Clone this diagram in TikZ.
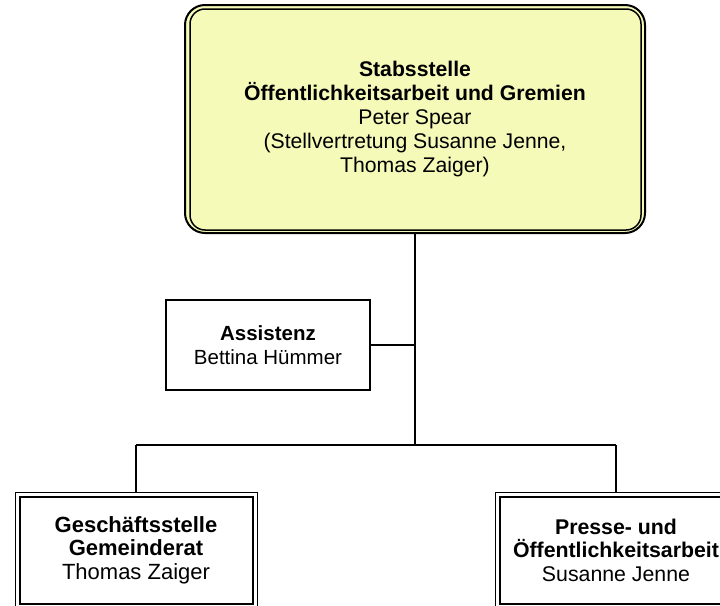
\documentclass[tikz,border=0pt]{standalone}
\usepackage{fontspec}
\setmainfont{Liberation Sans}
\definecolor{boxyellow}{RGB}{245,250,185}
\begin{document}
\begin{tikzpicture}[x=1pt,y=1pt,
  every node/.style={align=center, inner sep=0pt},
  topbox/.style={draw=black, line width=2pt, fill=boxyellow, rounded corners=20pt, minimum width=460pt, minimum height=228pt, font=\fontsize{21.2}{24.2}\selectfont},
  asbox/.style={draw=black, line width=1.2pt, fill=white, minimum width=204pt, minimum height=90pt, font=\fontsize{20.5}{23.5}\selectfont},
  botbox/.style={draw=black, line width=1pt, fill=white, minimum width=242pt, minimum height=116pt},
  conn/.style={draw=black, line width=1.5pt}]
\useasboundingbox (0,0) rectangle (720,-605);
\node[topbox] (top) at (415,-119) {\textbf{Stabsstelle}\\\textbf{Öffentlichkeitsarbeit und Gremien}\\Peter Spear\\(Stellvertretung Susanne Jenne,\\Thomas Zaiger)};
\draw[line width=1.5pt, rounded corners=15pt] ([shift={(6,-5)}]top.north west) rectangle ([shift={(-5,4)}]top.south east);
\node[asbox] (assist) at (268,-345) {\textbf{Assistenz}\\Bettina Hümmer};
\node[botbox, font=\fontsize{22}{23.5}\selectfont] (left) at (136,-550) {\textbf{Geschäftsstelle}\\\textbf{Gemeinderat}\\Thomas Zaiger};
\draw[line width=2pt] ([shift={(5,-5)}]left.north west) rectangle ([shift={(-5,5)}]left.south east);
\node[botbox, font=\fontsize{21.3}{23.5}\selectfont] (right) at (616,-550) {\textbf{Presse- und}\\\textbf{Öffentlichkeitsarbeit}\\Susanne Jenne};
\draw[line width=2pt] ([shift={(5,-5)}]right.north west) rectangle ([shift={(-5,5)}]right.south east);
\coordinate (j1) at (assist.east -| top.south);
\coordinate (j2) at (415,-445);
\coordinate (bl) at (136,-445);
\coordinate (br) at (616,-445);
\draw[conn] (top.south) -- (j2);
\draw[conn] (assist.east) -- (j1);
\draw[conn] (bl) -- (br);
\draw[conn] (bl) -- (left.north);
\draw[conn] (br) -- (right.north);
\end{tikzpicture}
\end{document}
